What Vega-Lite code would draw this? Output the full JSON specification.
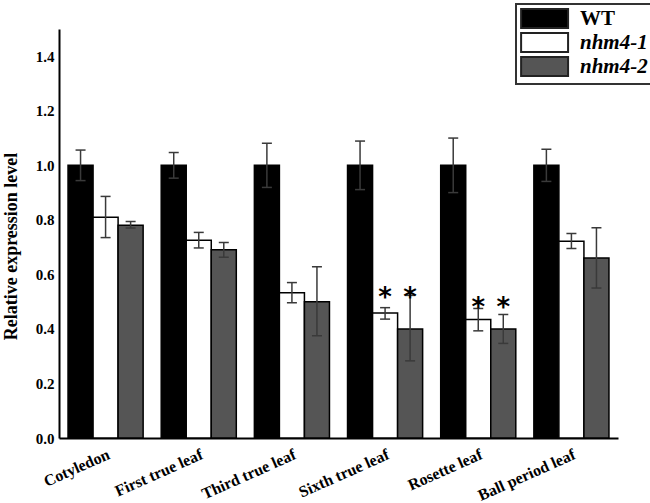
{
  "$schema": "https://vega.github.io/schema/vega-lite/v6.json",
  "width": 559,
  "height": 409,
  "autosize": {"type": "none"},
  "padding": {"left": 59, "top": 29, "right": 32, "bottom": 65},
  "background": "white",
  "config": {
    "view": {"stroke": null},
    "font": "Liberation Serif"
  },
  "datasets": {
    "bars": [
      {"tissue": "Cotyledon", "genotype": "WT", "value": 1.0, "lo": 0.944, "hi": 1.056},
      {"tissue": "Cotyledon", "genotype": "nhm4-1", "value": 0.81, "lo": 0.735, "hi": 0.886},
      {"tissue": "Cotyledon", "genotype": "nhm4-2", "value": 0.78, "lo": 0.77, "hi": 0.794},
      {"tissue": "First true leaf", "genotype": "WT", "value": 1.0, "lo": 0.953, "hi": 1.047},
      {"tissue": "First true leaf", "genotype": "nhm4-1", "value": 0.725, "lo": 0.697, "hi": 0.754},
      {"tissue": "First true leaf", "genotype": "nhm4-2", "value": 0.69, "lo": 0.663, "hi": 0.717},
      {"tissue": "Third true leaf", "genotype": "WT", "value": 1.0, "lo": 0.919, "hi": 1.081},
      {"tissue": "Third true leaf", "genotype": "nhm4-1", "value": 0.533, "lo": 0.496, "hi": 0.57},
      {"tissue": "Third true leaf", "genotype": "nhm4-2", "value": 0.5, "lo": 0.375, "hi": 0.628},
      {"tissue": "Sixth true leaf", "genotype": "WT", "value": 1.0, "lo": 0.911, "hi": 1.089},
      {"tissue": "Sixth true leaf", "genotype": "nhm4-1", "value": 0.458, "lo": 0.436, "hi": 0.478},
      {"tissue": "Sixth true leaf", "genotype": "nhm4-2", "value": 0.4, "lo": 0.283, "hi": 0.523},
      {"tissue": "Rosette leaf", "genotype": "WT", "value": 1.0, "lo": 0.9, "hi": 1.1},
      {"tissue": "Rosette leaf", "genotype": "nhm4-1", "value": 0.435, "lo": 0.393, "hi": 0.475},
      {"tissue": "Rosette leaf", "genotype": "nhm4-2", "value": 0.4, "lo": 0.347, "hi": 0.453},
      {"tissue": "Ball period leaf", "genotype": "WT", "value": 1.0, "lo": 0.941, "hi": 1.059},
      {"tissue": "Ball period leaf", "genotype": "nhm4-1", "value": 0.722, "lo": 0.695, "hi": 0.75},
      {"tissue": "Ball period leaf", "genotype": "nhm4-2", "value": 0.66, "lo": 0.55, "hi": 0.771}
    ],
    "stars": [
      {"tissue": "Sixth true leaf", "genotype": "nhm4-1", "pos": 0.534, "sig": "*"},
      {"tissue": "Sixth true leaf", "genotype": "nhm4-2", "pos": 0.534, "sig": "*"},
      {"tissue": "Rosette leaf", "genotype": "nhm4-1", "pos": 0.5, "sig": "*"},
      {"tissue": "Rosette leaf", "genotype": "nhm4-2", "pos": 0.5, "sig": "*"}
    ]
  },
  "encoding": {
    "x": {
      "field": "tissue",
      "type": "nominal",
      "sort": ["Cotyledon", "First true leaf", "Third true leaf", "Sixth true leaf", "Rosette leaf", "Ball period leaf"],
      "scale": {"paddingInner": 0.194, "paddingOuter": 0.097},
      "axis": {
        "title": null,
        "labelAngle": -24,
        "labelAlign": "right",
        "labelBaseline": "top",
        "labelFont": "Liberation Serif",
        "labelFontWeight": "bold",
        "labelFontSize": 16,
        "labelColor": "black",
        "labelPadding": 8,
        "labelBound": false,
        "labelOverlap": false,
        "ticks": false,
        "domainColor": "black",
        "domainWidth": 2
      }
    },
    "xOffset": {
      "field": "genotype",
      "type": "nominal",
      "sort": ["WT", "nhm4-1", "nhm4-2"],
      "scale": {"paddingInner": 0, "paddingOuter": 0}
    }
  },
  "layer": [
    {
      "data": {"name": "bars"},
      "mark": {"type": "bar", "stroke": "black", "strokeWidth": 1.5},
      "encoding": {
        "y": {
          "field": "value",
          "type": "quantitative",
          "scale": {"domain": [0, 1.5], "nice": false},
          "axis": {
            "title": "Relative expression level",
            "titleFont": "Liberation Serif",
            "titleFontWeight": "bold",
            "titleFontSize": 18,
            "titleColor": "black",
            "titlePadding": 15,
            "titleY": 217,
            "titleAlign": "center",
            "values": [0, 0.2, 0.4, 0.6, 0.8, 1.0, 1.2, 1.4],
            "format": ".1f",
            "labelFont": "Liberation Serif",
            "labelFontWeight": "bold",
            "labelFontSize": 15,
            "labelColor": "black",
            "labelPadding": 5,
            "ticks": false,
            "grid": false,
            "domainColor": "black",
            "domainWidth": 2
          }
        },
        "fill": {
          "field": "genotype",
          "type": "nominal",
          "sort": ["WT", "nhm4-1", "nhm4-2"],
          "scale": {"domain": ["WT", "nhm4-1", "nhm4-2"], "range": ["#000000", "#ffffff", "#555555"]},
          "legend": {
            "title": null,
            "orient": "none",
            "legendX": 457,
            "legendY": -25,
            "direction": "vertical",
            "fillColor": "white",
            "strokeColor": "#333333",
            "padding": 4,
            "cornerRadius": 0,
            "symbolType": "M-1,-1H4V1H-1Z",
            "symbolSize": 353,
            "symbolStrokeColor": "#222222",
            "symbolStrokeWidth": 2,
            "symbolOpacity": 1,
            "labelFont": "Liberation Serif",
            "labelFontWeight": "bold",
            "labelFontSize": 21,
            "labelColor": "black",
            "labelOffset": 39,
            "rowPadding": -3,
            "encode": {
              "legend": {
                "update": {"strokeWidth": {"value": 2}}
              },
              "labels": {
                "update": {
                  "fontStyle": {"signal": "datum.label === 'WT' ? 'normal' : 'italic'"}
                }
              }
            }
          }
        }
      }
    },
    {
      "data": {"name": "bars"},
      "mark": {"type": "rule", "color": "#3a3a3a", "strokeWidth": 1.5},
      "encoding": {
        "y": {"field": "lo", "type": "quantitative"},
        "y2": {"field": "hi"}
      }
    },
    {
      "data": {"name": "bars"},
      "mark": {"type": "tick", "orient": "horizontal", "color": "#3a3a3a", "size": 10, "thickness": 1.5, "opacity": 1},
      "encoding": {
        "y": {"field": "lo", "type": "quantitative"}
      }
    },
    {
      "data": {"name": "bars"},
      "mark": {"type": "tick", "orient": "horizontal", "color": "#3a3a3a", "size": 10, "thickness": 1.5, "opacity": 1},
      "encoding": {
        "y": {"field": "hi", "type": "quantitative"}
      }
    },
    {
      "data": {"name": "stars"},
      "mark": {"type": "text", "font": "DejaVu Sans", "fontWeight": "bold", "fontSize": 26, "color": "black", "baseline": "middle", "align": "center", "dy": 6},
      "encoding": {
        "y": {"field": "pos", "type": "quantitative"},
        "text": {"field": "sig"}
      }
    }
  ]
}
